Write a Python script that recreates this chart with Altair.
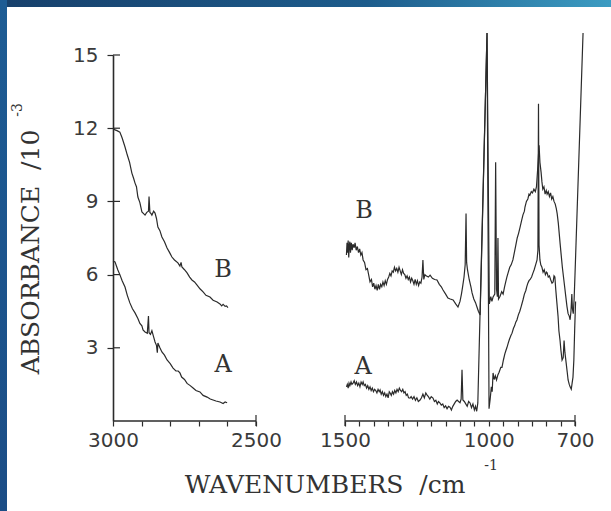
import altair as alt
import pandas as pd

# ---------------- data (wavenumber cm-1, absorbance /1e-3) ----------------
left_wn_B = [3000, 2993, 2986, 2976, 2968, 2958, 2950, 2942, 2934, 2928, 2923, 2918, 2913, 2906,
             2899, 2893, 2888, 2882, 2876, 2874, 2871, 2867, 2864, 2858, 2853, 2848, 2843, 2836,
             2829, 2820, 2811, 2802, 2794, 2785, 2773, 2766, 2762, 2759, 2750, 2741, 2732, 2724,
             2715, 2706, 2696, 2685, 2675, 2661, 2650, 2636, 2626, 2620, 2615, 2608, 2603, 2598]
left_abs_B = [12.0, 11.93, 11.9, 11.84, 11.6, 11.23, 10.9, 10.6, 10.16, 9.95, 9.75, 9.6, 9.18, 8.95,
              8.57, 8.5, 8.44, 8.55, 8.6, 9.2, 8.55, 8.5, 8.44, 8.6, 8.52, 8.3, 7.95, 7.8,
              7.54, 7.35, 7.09, 6.9, 6.72, 6.6, 6.48, 6.35, 6.5, 6.31, 6.2, 6.07, 5.9, 5.78,
              5.7, 5.57, 5.42, 5.29, 5.15, 5.08, 4.95, 4.88, 4.8, 4.72, 4.78, 4.7, 4.72, 4.65]

left_wn_A = [3000, 2993, 2988, 2983, 2976, 2968, 2958, 2950, 2941, 2932, 2923, 2913, 2906, 2899,
             2895, 2888, 2880, 2876, 2874, 2869, 2864, 2858, 2853, 2848, 2845, 2843, 2836, 2829,
             2820, 2811, 2800, 2790, 2780, 2772, 2766, 2760, 2750, 2741, 2730, 2720, 2710, 2696,
             2685, 2671, 2660, 2650, 2640, 2626, 2615, 2608, 2601]
left_abs_A = [6.55, 6.52, 6.35, 6.19, 6.0, 5.75, 5.49, 5.15, 4.84, 4.6, 4.43, 4.2, 4.0, 3.9,
              3.73, 3.65, 3.6, 4.3, 3.62, 3.55, 3.7, 3.45, 3.24, 3.1, 2.8, 3.2, 3.0, 2.83,
              2.7, 2.5, 2.35, 2.17, 2.05, 2.05, 1.97, 1.8, 1.7, 1.54, 1.45, 1.35, 1.25, 1.19,
              1.05, 0.98, 0.9, 0.86, 0.82, 0.78, 0.72, 0.78, 0.75]

right_wn_B = [1495, 1493, 1491, 1489, 1487, 1485, 1483, 1481, 1478, 1475, 1472, 1468, 1465, 1461,
              1457, 1453, 1449, 1445, 1441, 1437, 1432, 1427, 1422, 1417, 1413, 1408, 1404, 1400,
              1396, 1392, 1388, 1384, 1380, 1376, 1372, 1368, 1364, 1360, 1356, 1352, 1348, 1344,
              1340, 1336, 1332, 1328, 1324, 1320, 1316, 1312, 1308, 1304, 1300, 1296, 1292, 1288,
              1284, 1280, 1276, 1272, 1268, 1264, 1260, 1256, 1252, 1248, 1244, 1240, 1236, 1232,
              1229, 1226, 1222, 1218, 1210, 1204, 1196, 1188, 1180, 1172, 1165, 1159, 1150, 1142,
              1134, 1124, 1115, 1107, 1100, 1095, 1091, 1086, 1082, 1079, 1077, 1074, 1068, 1062,
              1058, 1052, 1046, 1041, 1036, 1030, 1006, 998, 993, 989, 985, 979, 976, 973,
              970, 968, 966, 961, 955, 950, 945, 941, 937, 932, 927, 922, 916, 911,
              906, 901, 896, 891, 886, 881, 876, 874, 869, 864, 860, 857, 852, 848,
              843, 838, 834, 830, 827, 825, 822, 818, 815, 812, 808, 804, 800, 797,
              793, 789, 785, 781, 777, 773, 769, 765, 762, 758, 755, 752, 748, 744,
              740, 736, 732, 728, 724, 720, 717, 714, 711, 709, 706, 703, 700, 672]
right_abs_B = [6.8, 7.3, 6.9, 7.4, 6.7, 7.2, 7.35, 6.9, 7.3, 7.0, 7.25, 7.1, 7.3, 7.0,
               7.15, 6.9, 7.05, 6.8, 6.9, 6.6, 6.5, 6.2, 6.25, 5.95, 5.7, 5.8, 5.5, 5.65,
               5.4, 5.55, 5.35, 5.6, 5.4, 5.6, 5.5, 5.7, 5.55, 5.75, 5.6, 5.8, 5.9, 6.05,
               5.95, 6.15, 6.1, 6.3, 6.15, 6.25, 6.1, 6.3, 6.15, 6.0, 6.2, 6.05, 6.0, 5.85,
               5.95, 5.8, 5.9, 5.7, 5.85, 5.75, 5.6, 5.8, 5.6, 5.75, 5.55, 5.7, 5.65, 5.9,
               6.6, 5.8, 6.0, 5.95, 5.9, 5.98, 5.85, 5.8, 5.78, 5.6, 5.5, 5.37, 5.2, 5.04,
               5.0, 4.96, 4.8, 4.67, 4.9, 5.2, 5.5, 5.9, 6.4, 8.5, 6.5, 6.2, 5.8, 5.5,
               5.25, 5.0, 4.85, 4.67, 4.5, 4.34, 15.9, 4.8, 5.1, 4.9, 5.08, 5.2, 10.6, 5.4,
               5.1, 7.5, 5.0, 5.1, 5.3, 5.2, 5.5, 5.7, 5.9, 6.1, 6.3, 6.4, 6.6, 6.9,
               7.2, 7.5, 7.7, 7.95, 8.2, 8.45, 8.6, 8.77, 9.0, 9.1, 9.3, 9.25, 9.4, 9.35,
               9.5, 9.4, 9.6, 10.3, 10.9, 11.3, 10.6, 10.2, 9.8, 9.5, 9.6, 9.3, 9.45, 9.3,
               9.4, 9.2, 9.35, 9.1, 9.2, 9.0, 8.9, 8.7, 8.5, 8.1, 7.7, 7.3, 6.8, 6.3,
               5.9, 5.5, 5.1, 4.7, 4.4, 4.3, 4.15, 4.5, 5.2, 4.6, 4.4, 5.0, 6.0, 15.9]

right_wn_A = [1495, 1492, 1489, 1486, 1483, 1479, 1476, 1472, 1468, 1464, 1460, 1456, 1452, 1448,
              1444, 1440, 1437, 1433, 1429, 1425, 1421, 1417, 1413, 1409, 1405, 1401, 1397, 1393,
              1389, 1385, 1381, 1378, 1374, 1370, 1366, 1362, 1358, 1354, 1350, 1346, 1343, 1339,
              1335, 1331, 1327, 1323, 1319, 1315, 1311, 1307, 1303, 1299, 1295, 1291, 1287, 1283,
              1279, 1274, 1270, 1265, 1260, 1255, 1250, 1245, 1239, 1234, 1229, 1224, 1219, 1215,
              1210, 1205, 1200, 1194, 1189, 1184, 1179, 1175, 1170, 1165, 1160, 1155, 1150, 1145,
              1140, 1135, 1130, 1125, 1120, 1115, 1110, 1105, 1100, 1096, 1093, 1090, 1085, 1080,
              1075, 1070, 1065, 1060, 1055, 1050, 1046, 1042, 1038, 1006, 999, 995, 991, 988,
              985, 981, 977, 973, 968, 964, 958, 954, 949, 944, 940, 937, 932, 928,
              923, 919, 914, 910, 906, 902, 897, 892, 887, 881, 876, 871, 868, 864,
              860, 856, 851, 846, 842, 837, 832, 829, 827, 825, 822, 819, 815, 811,
              807, 803, 799, 797, 793, 789, 785, 780, 776, 773, 770, 767, 763, 759,
              756, 752, 749, 745, 741, 738, 735, 731, 727, 724, 720, 717, 713, 710,
              707, 704, 701, 698]
right_abs_A = [1.4, 1.5, 1.35, 1.55, 1.45, 1.6, 1.5, 1.55, 1.65, 1.5, 1.6, 1.45, 1.55, 1.4,
               1.6, 1.5, 1.6, 1.45, 1.5, 1.35, 1.45, 1.3, 1.4, 1.25, 1.35, 1.2, 1.3, 1.25,
               1.15, 1.3, 1.2, 1.27, 1.1, 1.2, 1.05, 1.15, 1.0, 1.1, 0.95, 1.2, 1.15, 1.05,
               1.2, 1.1, 1.25, 1.15, 1.3, 1.2, 1.35, 1.25, 1.2, 1.3, 1.15, 1.2, 1.05, 1.1,
               0.95, 0.94, 1.0, 0.9, 1.0, 0.85, 0.95, 0.8, 0.86, 0.95, 1.1, 0.95, 1.15, 1.07,
               1.0, 0.9, 1.0, 0.94, 0.8, 0.85, 0.7, 0.8, 0.74, 0.65, 0.7, 0.55, 0.62, 0.5,
               0.6, 0.57, 0.45, 0.6, 0.7, 0.8, 0.86, 0.8, 0.75, 0.9, 2.1, 0.86, 0.8, 0.7,
               0.6, 0.8, 0.74, 0.55, 0.7, 0.45, 0.6, 0.4, 0.74, 15.9, 0.5, 0.9, 1.4, 1.2,
               1.97, 1.7, 1.85, 1.68, 1.9, 2.0, 2.2, 2.2, 2.5, 2.75, 2.9, 3.0, 3.2, 3.35,
               3.5, 3.6, 3.8, 3.9, 4.05, 4.14, 4.35, 4.5, 4.7, 4.96, 5.2, 5.35, 5.5, 5.65,
               5.75, 5.8, 5.9, 6.07, 6.2, 6.4, 6.6, 7.0, 13.0, 7.2, 6.6, 6.4, 6.3, 6.1,
               6.2, 6.0, 6.1, 6.07, 5.9, 5.95, 5.8, 5.65, 5.7, 5.95, 5.9, 5.4, 4.84, 4.3,
               3.7, 3.3, 2.9, 2.5, 2.6, 3.3, 2.8, 2.4, 2.0, 1.68, 1.5, 1.4, 1.3, 1.55,
               1.8, 2.5, 3.8, 4.9]

x_breaks = [3000, 2500, 1500, 700]
x_tick_values = [3000, 2900, 2800, 2700, 2600, 2500,
                 1500, 1450, 1400, 1350, 1300, 1250, 1200, 1150, 1100, 1050, 1000, 950,
                 900, 850, 800, 750, 700]
x_label_values = [3000, 2500, 1500, 1000, 700]
y_tick_values = [3, 6, 9, 12, 15]

label_wn = [2615, 2615, 1434, 1437]
label_abs = [6.2, 2.3, 8.6, 2.2]
label_txt = ["B", "A", "B", "A"]

# ---------------- tables ----------------
rows = []
for seg, wns, vals in [("B_left", left_wn_B, left_abs_B), ("A_left", left_wn_A, left_abs_A),
                       ("B_right", right_wn_B, right_abs_B), ("A_right", right_wn_A, right_abs_A)]:
    for i, (w, v) in enumerate(zip(wns, vals)):
        rows.append({"wn": w, "absorb": v, "seg": seg, "i": i})
df = pd.DataFrame(rows)

W, H = 462, 366
ink = "#2b2b2b"
txt_col = "#333333"
NB = "\u00a0"

x_scale = alt.Scale(domain=x_breaks, range=[0, 143, 232, 462], nice=False, zero=False)
y_scale = alt.Scale(domain=[0, 15], nice=False, zero=False)

x_axis = alt.Axis(values=x_tick_values, format="d",
                  labelExpr="indexof(%s, datum.value) >= 0 ? datum.label : ''" % str(x_label_values),
                  labelOverlap=False, labelFlush=False, domain=False, grid=False,
                  tickSize=5, tickColor=ink, tickWidth=1.2,
                  labelFont="DejaVu Sans", labelFontSize=20, labelColor="#3a3a3a",
                  labelPadding=4, title=None)
y_axis = alt.Axis(values=y_tick_values, format="d", domain=True, domainColor=ink, domainWidth=1.6,
                  grid=False, tickSize=6, tickColor=ink, tickWidth=1.2,
                  labelFont="DejaVu Sans", labelFontSize=20, labelColor="#3a3a3a",
                  labelPadding=9, title=None)

X = alt.X("wn:Q", scale=x_scale, axis=x_axis)
Y = alt.Y("absorb:Q", scale=y_scale, axis=y_axis)

lines = alt.Chart(df).mark_line(color=ink, strokeWidth=1.2, clip=False).encode(
    x=X, y=Y, detail="seg:N", order="i:Q")

axis_lines = alt.Chart(pd.DataFrame({"wn": [3000, 1500], "wn2": [2500, 700]})).mark_rule(
    color=ink, strokeWidth=1.6).encode(x=X, x2="wn2:Q", y=alt.value(H))

end_caps = alt.Chart(pd.DataFrame({"wn": [2500, 1500, 700]})).mark_rule(
    color=ink, strokeWidth=1.2).encode(x=X, y=alt.value(H - 6), y2=alt.value(H + 5))

inner_yticks = alt.Chart(pd.DataFrame({"absorb": y_tick_values})).mark_rule(
    color=ink, strokeWidth=1.2).encode(y=Y, x=alt.value(0), x2=alt.value(7))

labels = alt.Chart(pd.DataFrame({"wn": label_wn, "absorb": label_abs, "txt": label_txt})).mark_text(
    font="DejaVu Serif", fontSize=24, color=txt_col).encode(x=X, y=Y, text="txt:N")

one = pd.DataFrame({"k": [0]})
title_font = "DejaVu Serif"
ytitle = alt.Chart(one).mark_text(text="ABSORBANCE" + NB + NB + "/10", angle=270, font=title_font,
                                  fontSize=25, color=txt_col, baseline="middle", align="center").encode(
    x=alt.value(-82), y=alt.value(197))
ysup = alt.Chart(one).mark_text(text="-3", angle=270, font=title_font, fontSize=14,
                                color=txt_col, baseline="middle", align="center").encode(
    x=alt.value(-95), y=alt.value(55))
xtitle = alt.Chart(one).mark_text(text="WAVENUMBERS" + NB + NB + "/cm", font=title_font, fontSize=25,
                                  color=txt_col, baseline="alphabetic", align="center").encode(
    x=alt.value(212), y=alt.value(438))
xsup = alt.Chart(one).mark_text(text="-1", font=title_font, fontSize=14,
                                color=txt_col, baseline="middle", align="center").encode(
    x=alt.value(378), y=alt.value(411))

top_band = alt.Chart(one).mark_rect(fill=alt.LinearGradient(
    gradient="linear", x1=0, x2=1, y1=0, y2=0,
    stops=[alt.GradientStop(color="#17406b", offset=0), alt.GradientStop(color="#1d5c8c", offset=0.6),
           alt.GradientStop(color="#3c9cc2", offset=1)])).encode(
    x=alt.value(-113), x2=alt.value(498), y=alt.value(-55), y2=alt.value(-48))
left_band = alt.Chart(one).mark_rect(fill=alt.LinearGradient(
    gradient="linear", x1=0, x2=0, y1=0, y2=1,
    stops=[alt.GradientStop(color="#1d5c94", offset=0), alt.GradientStop(color="#1b4d86", offset=1)])).encode(
    x=alt.value(-113), x2=alt.value(-106), y=alt.value(-55), y2=alt.value(456))

chart = alt.layer(axis_lines, end_caps, inner_yticks, lines, labels, ytitle, ysup, xtitle, xsup,
                  top_band, left_band).properties(
    width=W, height=H,
    autosize=alt.AutoSizeParams(type="none"),
    padding={"left": 113, "top": 55, "right": 36, "bottom": 90},
    background="white",
).configure_view(stroke=None)

chart.save("out.html", embed_options={"renderer": "svg", "actions": False})
